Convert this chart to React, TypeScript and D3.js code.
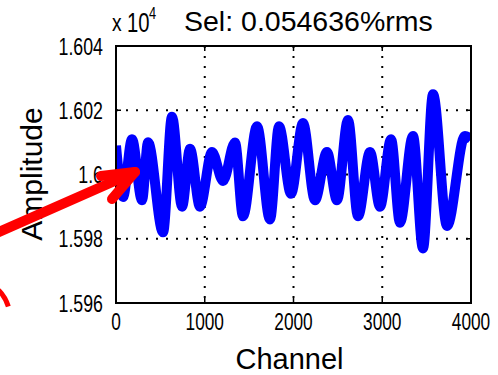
import React from "react";
import * as d3 from "d3";

const channels = [0, 79, 180, 293, 361, 530, 631, 744, 834, 946, 1082, 1206, 1341, 1431, 1589, 1735, 1837, 1972, 2107, 2242, 2377, 2490, 2614, 2727, 2862, 2975, 3099, 3200, 3346, 3459, 3572, 3730, 3932, 4000];
const amplitudes = [16009, 15993, 16011, 15992, 16010, 15982, 16018, 15990, 16008, 15990, 16007, 15998, 16010, 15987, 16015, 15986, 16015, 15994, 16016, 15992, 16007, 15992, 16017, 15987, 16007, 15990, 16011, 15985, 16012, 15977, 16025, 15984, 16012, 16011];
const xTicks = [0, 1000, 2000, 3000, 4000];
const yTicks = [15960, 15980, 16000, 16020, 16040];
const yTickLabels = ["1.596", "1.598", "1.6", "1.602", "1.604"];
const titleText = "Sel: 0.054636%rms";
const xLabel = "Channel";
const yLabel = "Amplitude";

const W = 498, H = 375;
const L = 116, R = 471, T = 46, B = 303;
const FONT = "'Liberation Sans', Arial, sans-serif";

export default function App() {
  const x = d3.scaleLinear().domain([0, 4000]).range([L, R]);
  const y = d3.scaleLinear().domain([15960, 16040]).range([B, T]);
  const pts = channels.map((c, i) => [c, amplitudes[i]] as [number, number]);
  const line = d3.line<[number, number]>().x(d => x(d[0])).y(d => y(d[1])).curve(d3.curveMonotoneX);
  const tk = 5;

  const tip = [135, 172];
  const arc = d3.arc()({ innerRadius: 40, outerRadius: 40, startAngle: 0.8, endAngle: 1.28 } as any);

  return (
    <svg width={W} height={H} style={{ position: "absolute", left: 0, top: 0, background: "#fff" }}>
      <rect x={0} y={0} width={W} height={H} fill="#fff" />
      <defs>
        <clipPath id="pc"><rect x={L} y={T} width={R - L} height={B - T} /></clipPath>
      </defs>
      {xTicks.slice(1, -1).map(t => (
        <line key={"gx" + t} x1={x(t)} x2={x(t)} y1={T} y2={B} stroke="#000" strokeWidth={2} strokeDasharray="2,8" />
      ))}
      {yTicks.slice(1, -1).map(t => (
        <line key={"gy" + t} x1={L} x2={R} y1={y(t)} y2={y(t)} stroke="#000" strokeWidth={2} strokeDasharray="2,8" />
      ))}
      <path d={line(pts) || ""} fill="none" stroke="#0000ff" strokeWidth={10} strokeLinejoin="round" clipPath="url(#pc)" />
      <rect x={L} y={T} width={R - L} height={B - T} fill="none" stroke="#000" strokeWidth={2} />
      {xTicks.map(t => (
        <g key={"tx" + t}>
          <line x1={x(t)} x2={x(t)} y1={B} y2={B - tk} stroke="#000" strokeWidth={1.5} />
          <line x1={x(t)} x2={x(t)} y1={T} y2={T + tk} stroke="#000" strokeWidth={1.5} />
          <g transform={`translate(${x(t)},${B + 27}) scale(0.72,1)`}>
            <text textAnchor="middle" fontFamily={FONT} fontSize={24} fill="#000">{t}</text>
          </g>
        </g>
      ))}
      {yTicks.map((t, i) => (
        <g key={"ty" + t}>
          <line x1={L} x2={L + tk} y1={y(t)} y2={y(t)} stroke="#000" strokeWidth={1.5} />
          <line x1={R} x2={R - tk} y1={y(t)} y2={y(t)} stroke="#000" strokeWidth={1.5} />
          <g transform={`translate(103,${y(t) + 8.5}) scale(0.74,1)`}>
            <text textAnchor="end" fontFamily={FONT} fontSize={24} fill="#000">{yTickLabels[i]}</text>
          </g>
        </g>
      ))}
      <g transform="translate(112,31) scale(0.8,1)">
        <text fontFamily={FONT} fontSize={24} fill="#000">x</text>
      </g>
      <g transform="translate(127,32) scale(0.75,1)">
        <text fontFamily={FONT} fontSize={27} fill="#000">10</text>
      </g>
      <g transform="translate(149,19) scale(0.8,1)">
        <text fontFamily={FONT} fontSize={16} fill="#000">4</text>
      </g>
      <text x={184} y={31} fontFamily={FONT} fontSize={28.5} fill="#000">{titleText}</text>
      <text x={(L + R) / 2 - 4} y={369} textAnchor="middle" fontFamily={FONT} fontSize={29} fill="#000">{xLabel}</text>
      <text transform="translate(42,174) rotate(-90)" textAnchor="middle" fontFamily={FONT} fontSize={30} fill="#000">{yLabel}</text>
      <g stroke="#ff0000" strokeWidth={10} strokeLinecap="round" strokeLinejoin="round" fill="none">
        <line x1={-10} y1={236} x2={tip[0]} y2={tip[1]} />
        <polyline points={`101,176 ${tip[0]},${tip[1]} 112,199`} />
      </g>
      <path d={arc || ""} transform="translate(-30,318)" fill="none" stroke="#ff0000" strokeWidth={5} />
    </svg>
  );
}
